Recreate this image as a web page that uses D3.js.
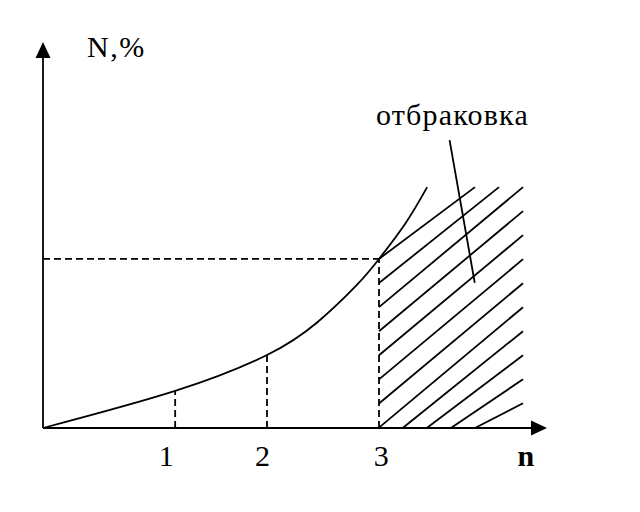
<!DOCTYPE html>
<html><head><meta charset="utf-8">
<script src="https://cdn.jsdelivr.net/npm/d3@7"></script>
<style>html,body{margin:0;padding:0;background:#fff;}svg{display:block;}
text{font-family:"Liberation Serif","Times New Roman","DejaVu Serif",serif;}</style>
</head><body>
<script>
// ---- data (n along x, N,% along y) ----
const curveN   = [0, 1.18, 2.0, 2.45, 2.80, 3.0, 3.24, 3.43];
const curveP   = [0, 9.6, 18.9, 27.4, 37.0, 43.8, 53.2, 62.4];
const tickN    = [1.18, 2.0, 3.0];          // dashed drop lines
const tickLabels = ["1", "2", "3"];
const tickLabelN = [1.1, 1.96, 3.02];
const axisLabelX = "n";
const axisLabelY = "N,%";
const rejectLabel = "отбраковка";
const thresholdN = 3.0, thresholdP = 43.8;
const hatchStartPath = [[3.0, 43.8], [3.0, 0], [3.857, 0]];
const hatchEndPath   = [[3.857, 62.4], [4.286, 62.4], [4.286, 6.4]];
const hatchCount = 12;
const pointerFrom = [3.63, 74.6], pointerTo = [3.855, 37.6];

const W = 640, H = 512;
const x = d3.scaleLinear().domain([0, 4.5]).range([43, 547]);
const y = d3.scaleLinear().domain([0, 100]).range([428, 42]);

const svg = d3.select("body").append("svg").attr("width", W).attr("height", H);
svg.append("rect").attr("width", W).attr("height", H).attr("fill", "#fff");

const ink = "#000", sw = 1.8;

// hatch lines
function pathPts(p) { return p.map(d => [x(d[0]), y(d[1])]); }
function along(pts, n) {
  const segs = []; let total = 0;
  for (let i = 0; i < pts.length - 1; i++) {
    const L = Math.hypot(pts[i+1][0]-pts[i][0], pts[i+1][1]-pts[i][1]);
    segs.push(L); total += L;
  }
  const out = [];
  for (let k = 0; k < n; k++) {
    let s = total * k / (n - 1), i = 0;
    while (i < segs.length - 1 && s > segs[i]) { s -= segs[i]; i++; }
    const t = Math.min(1, s / segs[i]);
    out.push([pts[i][0] + t*(pts[i+1][0]-pts[i][0]), pts[i][1] + t*(pts[i+1][1]-pts[i][1])]);
  }
  return out;
}
const hs = along(pathPts(hatchStartPath), hatchCount);
const he = along(pathPts(hatchEndPath), hatchCount);
svg.append("g").selectAll("line").data(d3.range(hatchCount)).join("line")
  .attr("x1", i => hs[i][0]).attr("y1", i => hs[i][1])
  .attr("x2", i => he[i][0]).attr("y2", i => he[i][1])
  .attr("stroke", ink).attr("stroke-width", sw);

// curve
const line = d3.line().x(i => x(curveN[i])).y(i => y(curveP[i])).curve(d3.curveNatural);
const curvePath = svg.append("path").attr("d", line(d3.range(curveN.length)))
  .attr("fill", "none").attr("stroke", ink).attr("stroke-width", sw);

// value of the drawn curve at a given n
function curveAt(n) {
  const node = curvePath.node(), L = node.getTotalLength(), px = x(n);
  let lo = 0, hi = L;
  for (let k = 0; k < 40; k++) {
    const mid = (lo + hi) / 2;
    if (node.getPointAtLength(mid).x < px) lo = mid; else hi = mid;
  }
  return node.getPointAtLength(lo).y;
}

// dashed lines
const dash = "7,4";
svg.append("g").selectAll("line").data(tickN).join("line")
  .attr("x1", d => x(d)).attr("x2", d => x(d))
  .attr("y1", y(0)).attr("y2", d => curveAt(d))
  .attr("stroke", ink).attr("stroke-width", sw).attr("stroke-dasharray", dash);
svg.append("line").attr("x1", x(0)).attr("x2", x(thresholdN))
  .attr("y1", y(thresholdP)).attr("y2", y(thresholdP))
  .attr("stroke", ink).attr("stroke-width", sw).attr("stroke-dasharray", dash);

// axes with arrows
svg.append("line").attr("x1", x(0)).attr("x2", x(4.5) - 16).attr("y1", y(0)).attr("y2", y(0))
  .attr("stroke", ink).attr("stroke-width", sw);
svg.append("line").attr("x1", x(0)).attr("x2", x(0)).attr("y1", y(0)).attr("y2", y(100) + 16)
  .attr("stroke", ink).attr("stroke-width", sw);
svg.append("path").attr("d", `M${x(4.5)},${y(0)} L${x(4.5)-16},${y(0)-7.5} L${x(4.5)-16},${y(0)+7.5} Z`).attr("fill", ink);
svg.append("path").attr("d", `M${x(0)},${y(100)} L${x(0)-7.5},${y(100)+16} L${x(0)+7.5},${y(100)+16} Z`).attr("fill", ink);

// pointer line
svg.append("line").attr("x1", x(pointerFrom[0])).attr("y1", y(pointerFrom[1]))
  .attr("x2", x(pointerTo[0])).attr("y2", y(pointerTo[1]))
  .attr("stroke", ink).attr("stroke-width", sw);

// text
svg.append("g").selectAll("text").data(tickLabels).join("text")
  .attr("x", (d, i) => x(tickLabelN[i])).attr("y", 466)
  .attr("text-anchor", "middle").attr("font-size", 30)
  .text(d => d);
svg.append("text").attr("x", x(4.31)).attr("y", 466).attr("text-anchor", "middle")
  .attr("font-size", 30).attr("font-weight", "bold").text(axisLabelX);
svg.append("text").attr("x", 87).attr("y", 57).attr("font-size", 30).attr("letter-spacing", 1.5).text(axisLabelY);
svg.append("text").attr("x", 376).attr("y", 125).attr("font-size", 30).attr("letter-spacing", 1.2).text(rejectLabel);
</script>
</body></html>
